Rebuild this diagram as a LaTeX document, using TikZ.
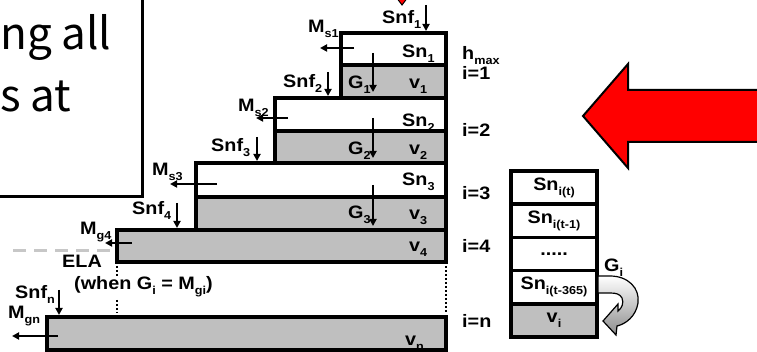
\documentclass[tikz,border=0pt]{standalone}
\usepackage{fontspec}
\setmainfont{Liberation Sans}[FakeStretch=1.1]
\newfontfamily\bigfont{Noto Sans CJK JP}
\usetikzlibrary{arrows.meta}
\newcommand\lsub[1]{\raisebox{-5pt}{\fontsize{11.5pt}{11.5pt}\selectfont #1}}
\begin{document}
\begin{tikzpicture}[x=1pt,y=-1pt,
  lbl/.style={font=\fontsize{18pt}{18pt}\selectfont\bfseries, inner sep=0pt, anchor=base west},
  wcell/.style={draw, line width=4pt, fill=white, anchor=north west, inner sep=0pt, outer sep=0pt, line join=miter},
  gcell/.style={wcell, fill=black!25},
  scell/.style={draw, line width=3.5pt, fill=white, anchor=north west, inner sep=0pt, outer sep=0pt,
    minimum width=86, minimum height=33.2, font=\fontsize{18pt}{18pt}\selectfont\bfseries},
  arr/.style={line width=2pt, -{Triangle[length=7pt,width=7pt]}},
  dots/.style={line width=2pt, dash pattern=on 2pt off 2pt},
]
\useasboundingbox (0,0) rectangle (757,352);
\clip (0,0) rectangle (757,352);

% text panel in the upper left corner
\draw[line width=3pt] (142,-5) -- (142,197) -- (-5,197);
\node[anchor=base west, inner sep=0pt, font=\bigfont\fontsize{44pt}{44pt}\selectfont] (t1) at (0,50) {ng all};
\node[anchor=base west, inner sep=0pt, font=\bigfont\fontsize{44pt}{44pt}\selectfont] (t2) at (0,112) {s at};

% tip of a red pointer at the top edge
\draw[fill=red, line width=1pt] (396,-3) -- (408,-3) -- (402,5) -- cycle;

% big red arrow
\draw[fill=red, line width=2pt, line join=miter] (583,116) -- (628,64) -- (628,90) -- (765,90) -- (765,142) -- (628,142) -- (628,168) -- cycle;

% ELA level
\draw[black!22, line width=3pt, dash pattern=on 13pt off 8pt] (13,251) -- (112,251);

% layers of the staircase
\node[wcell, minimum width=105, minimum height=32] (sn1) at (341,33) {};
\node[gcell, minimum width=105, minimum height=33] (v1) at (341,65) {};
\node[wcell, minimum width=171, minimum height=33] (sn2) at (275,98) {};
\node[gcell, minimum width=171, minimum height=32] (v2) at (275,131) {};
\node[wcell, minimum width=250, minimum height=34] (sn3) at (196,163) {};
\node[gcell, minimum width=250, minimum height=33] (v3) at (196,197) {};
\node[gcell, minimum width=329, minimum height=32] (v4) at (117,230) {};
\node[gcell, minimum width=399, minimum height=33] (vn) at (47,317) {};

% omitted layers
\draw[dots] (446,266) -- (446,313);
\draw[dots] (117,266) -- (117,276);
\draw[dots] (117,300) -- (117,313);

% arrow end points
\coordinate (a1s) at (426,5);   \coordinate (a1e) at (426,31);
\coordinate (m1s) at (354,48);  \coordinate (m1e) at (320,48);
\coordinate (g1s) at (373,53);  \coordinate (g1e) at (373,92);
\coordinate (a2s) at (328,72);  \coordinate (a2e) at (328,96);
\coordinate (m2s) at (288,118); \coordinate (m2e) at (256,118);
\coordinate (g2s) at (373,118); \coordinate (g2e) at (373,158);
\coordinate (a3s) at (257,137); \coordinate (a3e) at (257,161);
\coordinate (m3s) at (217,184); \coordinate (m3e) at (170,184);
\coordinate (g3s) at (373,185); \coordinate (g3e) at (373,226);
\coordinate (a4s) at (177,203); \coordinate (a4e) at (177,228);
\coordinate (m4s) at (132,243); \coordinate (m4e) at (105,243);
\coordinate (ans) at (59,290);  \coordinate (ane) at (59,315);
\coordinate (mns) at (58,336);  \coordinate (mne) at (12,336);
\foreach \p in {a1,m1,g1,a2,m2,g2,a3,m3,g3,a4,m4,an,mn}
  \draw[arr] (\p s) -- (\p e);

% labels of the staircase
\node[lbl] (lsnf1) at (382,24) {Snf\lsub{1}};
\node[lbl] (lms1) at (308,33) {M\lsub{s1}};
\node[lbl] (lsn1) at (402,58) {Sn\lsub{1}};
\node[lbl] (lg1) at (348,89) {G\lsub{1}};
\node[lbl] (lv1) at (409,89) {v\lsub{1}};
\node[lbl] (lsnf2) at (283,88) {Snf\lsub{2}};
\node[lbl] (lms2) at (238,112) {M\lsub{s2}};
\node[lbl] (lsn2) at (402,127) {Sn\lsub{2}};
\node[lbl] (lg2) at (348,155) {G\lsub{2}};
\node[lbl] (lv2) at (409,155) {v\lsub{2}};
\node[lbl] (lsnf3) at (211,152) {Snf\lsub{3}};
\node[lbl] (lms3) at (152,176) {M\lsub{s3}};
\node[lbl] (lsn3) at (402,186) {Sn\lsub{3}};
\node[lbl] (lg3) at (348,219) {G\lsub{3}};
\node[lbl] (lv3) at (409,220) {v\lsub{3}};
\node[lbl] (lsnf4) at (132,215) {Snf\lsub{4}};
\node[lbl] (lmg4) at (80,235) {M\lsub{g4}};
\node[lbl] (lv4) at (409,252) {v\lsub{4}};
\node[lbl] (lela) at (62,268) {ELA};
\node[lbl] (lwhen) at (74,290) {(when G\lsub{i} = M\lsub{gi})};
\node[lbl] (lsnfn) at (15,299) {Snf\lsub{n}};
\node[lbl] (lmgn) at (8,319) {M\lsub{gn}};
\node[lbl] (lvn) at (405,345) {v\lsub{n}};

% layer indices
\node[lbl] (hmax) at (462,60) {h\lsub{max}};
\node[lbl] (i1) at (462,80) {i=1};
\node[lbl] (i2) at (462,137) {i=2};
\node[lbl] (i3) at (462,200) {i=3};
\node[lbl] (i4) at (462,253) {i=4};
\node[lbl] (in) at (462,327) {i=n};

% snow history of one layer
\node[scell] (h1) at (511,171) {Sn\lsub{i(t)}};
\node[scell] (h2) at (511,204.2) {Sn\lsub{i(t-1)}};
\node[scell] (h3) at (511,237.4) {.....};
\node[scell] (h4) at (511,270.6) {Sn\lsub{i(t-365)}};
\node[scell, fill=black!25] (h5) at (511,303.8) {v\lsub{i}};

% turning arrow of the gain
\shade[top color=white, bottom color=black!45, draw=black, line width=1.2pt]
  (598,276) -- (610,276) .. controls (628,276) and (640,288) .. (638,303)
  .. controls (636,316) and (626,324) .. (617,326) -- (616,335) -- (603,321) -- (618,304)
  -- (618,311) .. controls (622,308) and (624,303) .. (622,298)
  .. controls (620,294) and (616,293) .. (610,293) -- (598,293) -- cycle;
\node[lbl] (lgi) at (604,272) {G\lsub{i}};
\end{tikzpicture}
\end{document}
